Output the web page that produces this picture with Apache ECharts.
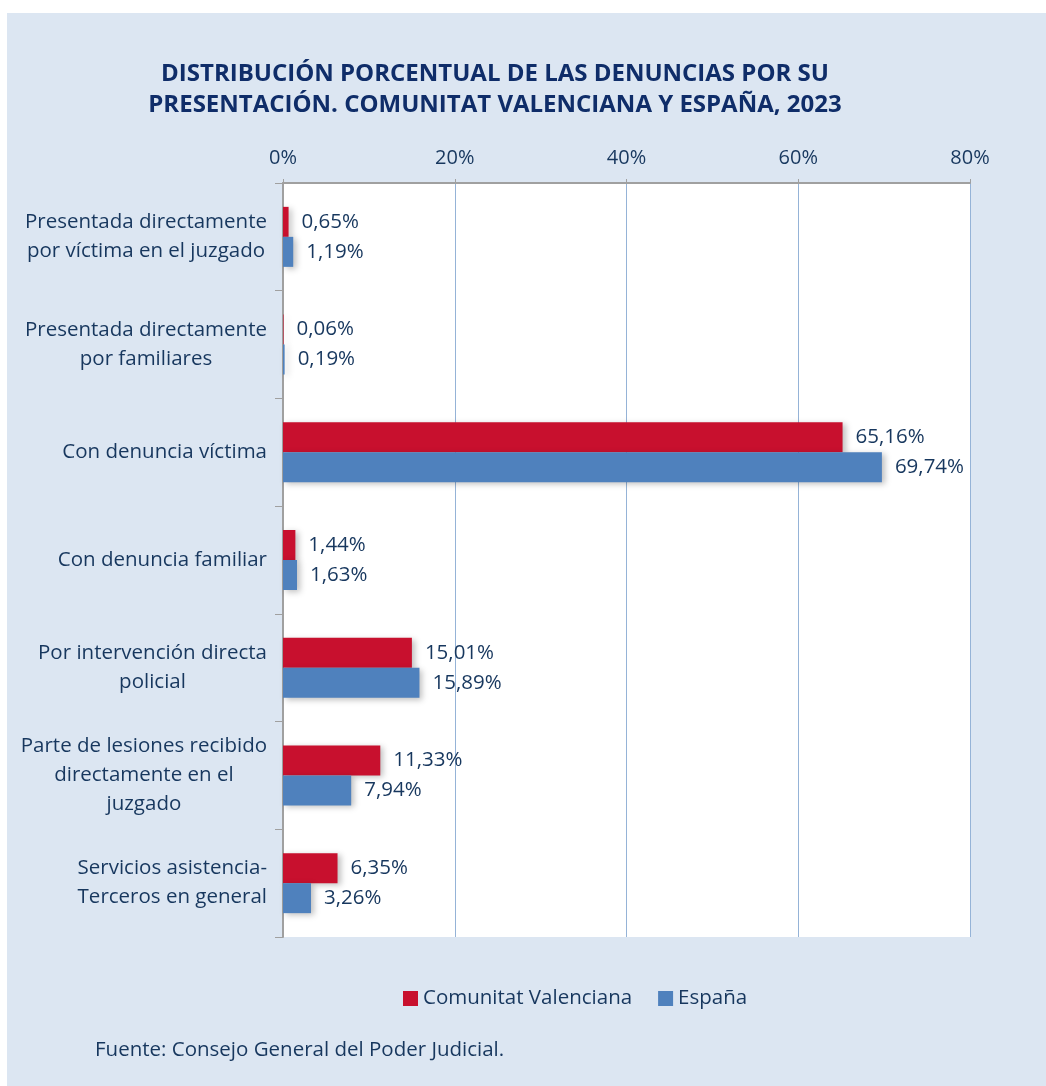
<!DOCTYPE html>
<html><head><meta charset="utf-8">
<script src="https://cdn.jsdelivr.net/npm/echarts@6/dist/echarts.min.js"></script>
<style>html,body{margin:0;padding:0;background:#fff}#c{width:1046px;height:1086px}</style>
</head><body><div id="c"></div>
<script>
const categories = [
  "Presentada directamente\npor víctima en el juzgado",
  "Presentada directamente\npor familiares",
  "Con denuncia víctima",
  "Con denuncia familiar",
  "Por intervención directa\npolicial",
  "Parte de lesiones recibido\ndirectamente en el\njuzgado",
  "Servicios asistencia-\nTerceros en general"
];
const valencia = [0.65, 0.06, 65.16, 1.44, 15.01, 11.33, 6.35];
const espana = [1.19, 0.19, 69.74, 1.63, 15.89, 7.94, 3.26];
const seriesNames = ["Comunitat Valenciana", "España"];
const titleText = "DISTRIBUCIÓN PORCENTUAL DE LAS DENUNCIAS POR SU\nPRESENTACIÓN. COMUNITAT VALENCIANA Y ESPAÑA, 2023";
const sourceText = "Fuente: Consejo General del Poder Judicial.";

const FONT = '"Open Sans", "Noto Sans", sans-serif';
const TXT = '#17375e';
const FS = 20.5;
const fmt = v => v.toFixed(2).replace('.', ',') + '%';

const chart = echarts.init(document.getElementById('c'), null, {renderer: 'canvas'});
const labelCfg = {
  show: true, position: 'right', distance: 13,
  formatter: p => fmt(p.value), color: TXT, fontFamily: FONT, fontSize: FS
};
chart.setOption({
  backgroundColor: '#ffffff',
  animation: false,
  graphic: [
    {type: 'rect', z: -10, shape: {x: 7, y: 13, width: 1039, height: 1073}, style: {fill: '#dce6f2'}},
    {type: 'text', left: 95, top: 1040, style: {text: sourceText, fill: TXT, font: FS + 'px ' + FONT}}
  ],
  title: {
    text: titleText, left: 490, top: 54, textAlign: 'center',
    textStyle: {fontFamily: FONT, fontWeight: 'bold', fontSize: 24, color: '#0f2d69', lineHeight: 31}
  },
  legend: {
    data: seriesNames, top: 983, left: 398, itemWidth: 15, itemHeight: 15, itemGap: 26,
    icon: 'rect', textStyle: {color: TXT, fontFamily: FONT, fontSize: FS}
  },
  grid: {left: 283, top: 183, right: 76, bottom: 149, show: true, backgroundColor: '#ffffff', borderWidth: 0},
  xAxis: {
    type: 'value', position: 'top', min: 0, max: 80, interval: 20,
    axisLabel: {formatter: '{value}%', color: TXT, fontFamily: FONT, fontSize: 20, margin: 15},
    axisLine: {show: true, lineStyle: {color: '#a0a0a0', width: 2}},
    axisTick: {show: true, length: 4, lineStyle: {color: '#a0a0a0'}},
    splitLine: {show: true, lineStyle: {color: '#95b3d7', width: 1}}
  },
  yAxis: {
    type: 'category', data: categories, inverse: true,
    axisLine: {show: true, lineStyle: {color: '#a0a0a0', width: 2}},
    axisTick: {show: true, length: 8, lineStyle: {color: '#a0a0a0'}},
    axisLabel: {
      margin: 16, color: TXT, fontFamily: FONT, fontSize: FS, lineHeight: 29,
      formatter: v => v.split('\n').map(s => '{c|' + s + '}').join('\n'),
      rich: {c: {align: 'center', color: TXT, fontFamily: FONT, fontSize: FS, lineHeight: 29}}
    }
  },
  series: [
    {name: seriesNames[0], type: 'bar', data: valencia, barWidth: 30, barGap: '0%',
     itemStyle: {color: '#c8102e', shadowBlur: 6, shadowColor: 'rgba(0,0,0,0.25)', shadowOffsetX: 3, shadowOffsetY: 2},
     label: labelCfg},
    {name: seriesNames[1], type: 'bar', data: espana, barWidth: 30, barGap: '0%',
     itemStyle: {color: '#4f81bd', shadowBlur: 6, shadowColor: 'rgba(0,0,0,0.25)', shadowOffsetX: 3, shadowOffsetY: 2},
     label: labelCfg}
  ]
});
</script></body></html>
